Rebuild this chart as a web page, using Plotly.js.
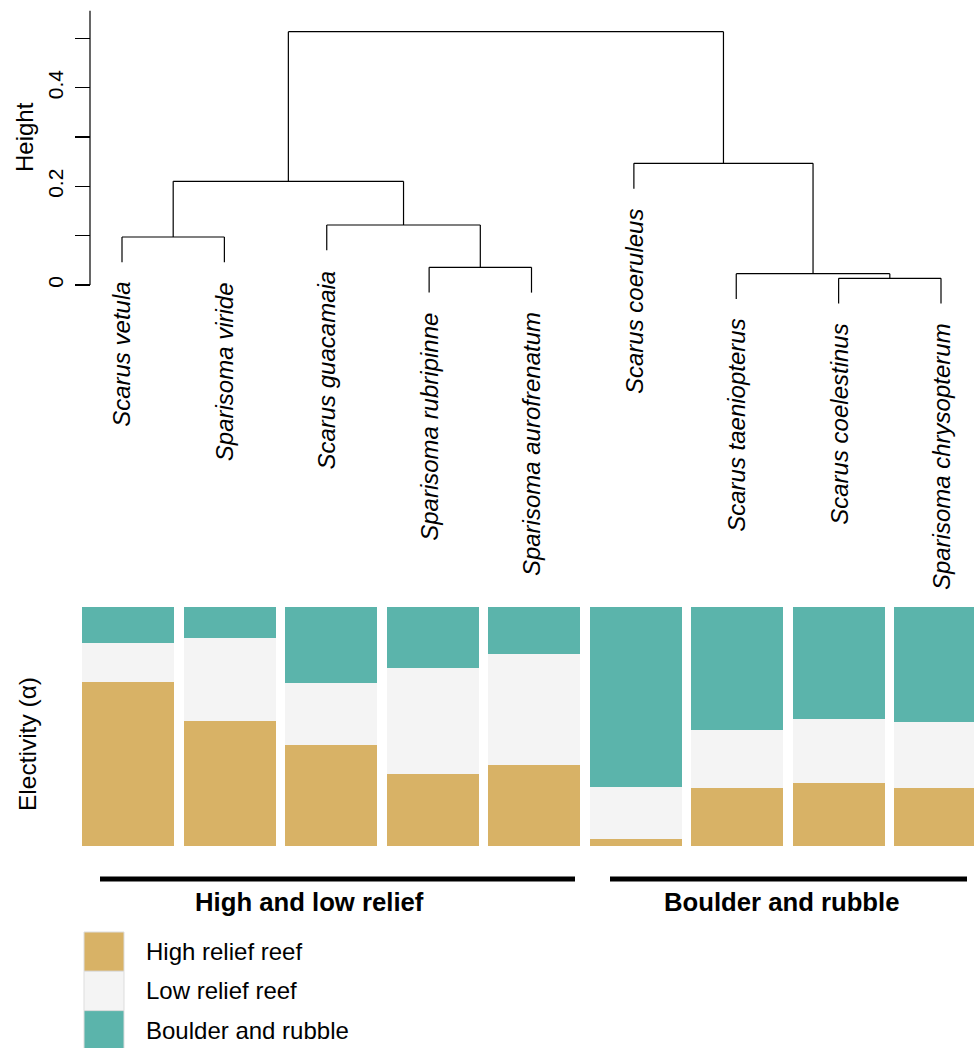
<!DOCTYPE html>
<html>
<head>
<meta charset="utf-8">
<script src="https://cdn.plot.ly/plotly-3.0.1.min.js"></script>
<style>html,body{margin:0;padding:0;background:#fff;}#chart{width:974px;height:1048px;}</style>
</head>
<body>
<div id="chart"></div>
<script>
// ---- Data ----
var species = ['Scarus vetula','Sparisoma viride','Scarus guacamaia','Sparisoma rubripinne','Sparisoma aurofrenatum','Scarus coeruleus','Scarus taeniopterus','Scarus coelestinus','Sparisoma chrysopterum'];
// hclust-style merge table (negative = leaf index, positive = earlier merge)
var mergeLeft   = [-8, -7, -4, -1, -3, 4, -6, 6];
var mergeRight  = [-9,  1, -5, -2,  3, 5,  2, 7];
var mergeHeight = [0.0136, 0.0229, 0.0359, 0.0973, 0.1216, 0.2102, 0.2467, 0.5135];
var hangFraction = 0.1;

var seriesNames = ['High relief reef', 'Low relief reef', 'Boulder and rubble'];
var highRelief    = [0.686, 0.523, 0.423, 0.301, 0.339, 0.029, 0.243, 0.264, 0.243];
var lowRelief     = [0.163, 0.347, 0.259, 0.444, 0.464, 0.218, 0.243, 0.268, 0.276];
var boulderRubble = [0.151, 0.130, 0.318, 0.255, 0.197, 0.753, 0.514, 0.468, 0.481];
var seriesColors = ['#D8B266', '#F4F4F4', '#5BB4AB'];

var groupNames = ['High and low relief', 'Boulder and rubble'];
var yTickVals = [0, 0.1, 0.2, 0.3, 0.4, 0.5];
var yTickText = ['0', '', '0.2', '', '0.4', ''];

// ---- Dendrogram segments ----
var maxH = Math.max.apply(null, mergeHeight);
var hang = hangFraction * maxH;
var nodeX = [], segX = [], segY = [], leafBottom = {};
for (var m = 0; m < mergeHeight.length; m++) {
  var h = mergeHeight[m];
  var kids = [mergeLeft[m], mergeRight[m]];
  var xs = [];
  kids.forEach(function (c) {
    var cx, ch;
    if (c < 0) { cx = -c; ch = h - hang; leafBottom[-c] = ch; }
    else { cx = nodeX[c - 1]; ch = mergeHeight[c - 1]; }
    segX.push(cx, cx, null); segY.push(ch, h, null);
    xs.push(cx);
  });
  segX.push(xs[0], xs[1], null); segY.push(h, h, null);
  nodeX.push((xs[0] + xs[1]) / 2);
}

var FONT = 'Liberation Sans, Arial, Helvetica, sans-serif';
var W = 974, H = 1048;
function px(x) { return x / W; }
function py(y) { return (H - y) / H; }

var traces = [
  { type: 'scatter', mode: 'lines', x: segX, y: segY, xaxis: 'x', yaxis: 'y',
    line: { color: '#000', width: 1.2 }, hoverinfo: 'skip', showlegend: false, connectgaps: false },
  { type: 'bar', name: seriesNames[0], x: species, y: highRelief, xaxis: 'x2', yaxis: 'y2',
    marker: { color: seriesColors[0], line: { width: 0 } }, width: 0.9064, showlegend: false },
  { type: 'bar', name: seriesNames[1], x: species, y: lowRelief, xaxis: 'x2', yaxis: 'y2',
    marker: { color: seriesColors[1], line: { width: 0 } }, width: 0.9064, showlegend: false },
  { type: 'bar', name: seriesNames[2], x: species, y: boulderRubble, xaxis: 'x2', yaxis: 'y2',
    marker: { color: seriesColors[2], line: { width: 0 } }, width: 0.9064, showlegend: false }
];

var annotations = [];
// leaf labels
species.forEach(function (s, i) {
  annotations.push({ xref: 'x', yref: 'y', x: i + 1, y: leafBottom[i + 1], yshift: -18,
    xanchor: 'center', yanchor: 'top', textangle: -90, showarrow: false,
    text: '<i>' + s + '</i>', font: { family: FONT, size: 24, color: '#000' } });
});
// axis titles
annotations.push({ xref: 'paper', yref: 'paper', x: px(24), y: py(137), xanchor: 'center', yanchor: 'middle',
  textangle: -90, showarrow: false, text: 'Height', font: { family: FONT, size: 24, color: '#000' } });
annotations.push({ xref: 'paper', yref: 'paper', x: px(27), y: py(744), xanchor: 'center', yanchor: 'middle',
  textangle: -90, showarrow: false, text: 'Electivity (α)', font: { family: FONT, size: 24.5, color: '#000' } });
// group labels
annotations.push({ xref: 'paper', yref: 'paper', x: px(309), y: py(902), xanchor: 'center', yanchor: 'middle',
  showarrow: false, text: '<b>' + groupNames[0] + '</b>', font: { family: FONT, size: 25.7, color: '#000' } });
annotations.push({ xref: 'paper', yref: 'paper', x: px(781), y: py(902), xanchor: 'center', yanchor: 'middle',
  showarrow: false, text: '<b>' + groupNames[1] + '</b>', font: { family: FONT, size: 25.7, color: '#000' } });

var shapes = [
  // dendrogram axis line
  { type: 'line', xref: 'paper', yref: 'y', x0: px(90), x1: px(90), y0: 0, y1: 0.556, line: { color: '#000', width: 1.2 } },
  // group bars
  { type: 'line', xref: 'paper', yref: 'paper', x0: px(100), x1: px(575), y0: py(879), y1: py(879), line: { color: '#000', width: 5 } },
  { type: 'line', xref: 'paper', yref: 'paper', x0: px(610), x1: px(967), y0: py(879), y1: py(879), line: { color: '#000', width: 5 } }
];
// legend
var legTop = 932, legStep = 39.3;
seriesNames.forEach(function (n, i) {
  var t = legTop + i * legStep, b = t + legStep;
  shapes.push({ type: 'rect', xref: 'paper', yref: 'paper', x0: px(84), x1: px(124), y0: py(b), y1: py(t),
    fillcolor: seriesColors[i], line: { color: '#DDDDDD', width: 1 } });
  annotations.push({ xref: 'paper', yref: 'paper', x: px(144), y: py(t + legStep / 2), xanchor: 'left', yanchor: 'middle',
    showarrow: false, text: n, font: { family: FONT, size: 24, color: '#000' } });
});

var layout = {
  width: W, height: H,
  margin: { l: 0, r: 0, t: 0, b: 0, pad: 0 },
  paper_bgcolor: '#fff', plot_bgcolor: 'rgba(0,0,0,0)',
  showlegend: false, barmode: 'stack',
  font: { family: FONT, color: '#000' },
  xaxis: { domain: [0, 1], range: [-0.1917, 9.3223], visible: false, anchor: 'y' },
  yaxis: { domain: [py(330), 1], range: [-0.09122, 0.57774], anchor: 'free', position: px(90),
    showgrid: false, zeroline: false, showline: false,
    tickmode: 'array', tickvals: yTickVals, ticktext: yTickText,
    ticks: 'outside', ticklen: 15, tickwidth: 1.2, tickcolor: '#000', tickangle: -90,
    ticklabelstandoff: 4,
    tickfont: { family: FONT, size: 21, color: '#000' } },
  xaxis2: { domain: [0, 1], range: [-1.2611, 8.3350], visible: false, anchor: 'y2', type: 'category',
    categoryorder: 'array', categoryarray: species },
  yaxis2: { domain: [py(846), py(607)], range: [0, 1], visible: false, anchor: 'x2' },
  shapes: shapes,
  annotations: annotations
};

Plotly.newPlot('chart', traces, layout, { staticPlot: true, displayModeBar: false });
</script>
</body>
</html>
